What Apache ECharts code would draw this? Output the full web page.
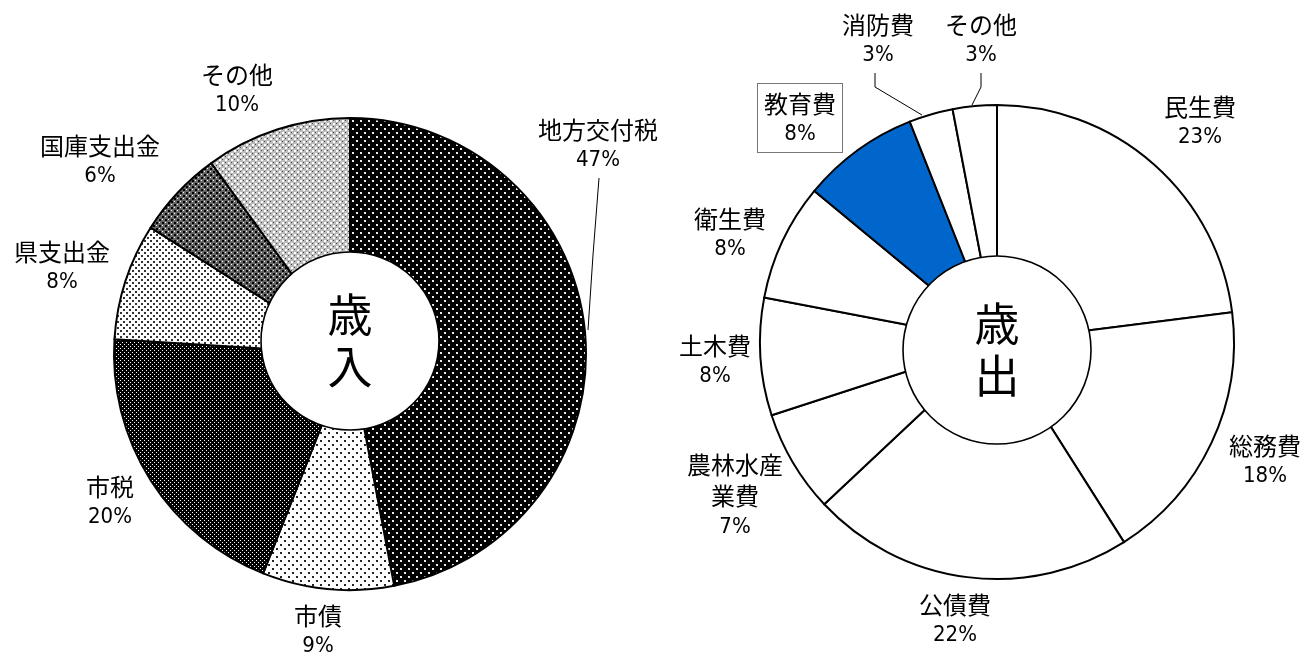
<!DOCTYPE html>
<html><head><meta charset="utf-8">
<script src="https://cdn.jsdelivr.net/npm/echarts@6/dist/echarts.min.js"></script>
<style>html,body{margin:0;padding:0;background:#fff}#c{width:1314px;height:657px}</style>
</head><body><div id="c"></div>
<script>
// ---- data ----
const revenueNames = ['地方交付税','市債','市税','県支出金','国庫支出金','その他'];
const revenueValues = [47, 9, 20, 8, 6, 10];
const expenseNames = ['民生費','総務費','公債費','農林水産業費','土木費','衛生費','教育費','消防費','その他'];
const expenseValues = [23, 18, 22, 7, 8, 8, 8, 3, 3];
const centerLabels = ['歳入','歳出'];

// ---- layout (label anchor positions, px) ----
const revLabelPos = [[598,145],[318,631],[110,502],[62,267],[100,161],[237,90]];
const expLabelPos = [[1200,122],[1265,461],[955,620],[735,496],[715,361],[730,234],[800,118],[878,40],[981,40]];
const revLines = {0: [[599,178],[593,255],[588,330]]};
const expLines = {7: [[875,73],[875,87],[922,115]], 8: [[981,73],[981,87],[972,105]]};

function pat(size, bg, dots) {
  const c = document.createElement('canvas');
  c.width = c.height = size;
  const g = c.getContext('2d');
  g.fillStyle = bg; g.fillRect(0,0,size,size);
  dots.forEach(d => { g.fillStyle = d[4]; g.fillRect(d[0], d[1], d[2], d[3]); });
  return {image: c, repeat: 'repeat'};
}
const revFills = [
  pat(8, '#000', [[0,0,2,2,'#eee'],[4,4,2,2,'#eee']]),
  pat(8, '#fff', [[0,0,2,2,'#222'],[4,4,2,2,'#222']]),
  pat(4, '#000', [[0,0,1,1,'#fff'],[2,2,1,1,'#fff']]),
  pat(6, '#fff', [[0,0,2,2,'#333'],[3,3,2,2,'#333']]),
  pat(6, '#666', [[0,0,2,2,'#000'],[3,3,2,2,'#000'],[0,3,1,1,'#fff'],[3,0,1,1,'#fff']]),
  pat(6, '#bbb', [[0,0,2,2,'#fff'],[3,3,2,2,'#fff'],[0,3,1,1,'#444'],[3,0,1,1,'#444']])
];
const expFills = ['#fff','#fff','#fff','#fff','#fff','#fff','#0066CC','#fff','#fff'];

const JP = '"Noto Sans CJK JP", sans-serif';
const NUM = '"DejaVu Sans Condensed", "Liberation Sans Narrow", "Noto Sans CJK JP", sans-serif';

function wrapName(n) { return n.length > 5 ? n.slice(0,4) + '\n' + n.slice(4) : n; }
function fmt(p) {
  return wrapName(p.name).split('\n').map(s => '{n|' + s + '}').join('\n') + '\n{p|' + p.value + '%}';
}
const rich = {
  n: {fontFamily: JP, fontSize: 24, lineHeight: 31, color: '#000'},
  p: {fontFamily: NUM, fontSize: 22, lineHeight: 31, color: '#000'}
};

function layoutFn(pos, lines) {
  return function (params) {
    const i = params.dataIndex;
    const r = {x: pos[i][0], y: pos[i][1], align: 'center', verticalAlign: 'middle'};
    if (lines[i]) r.labelLinePoints = lines[i];
    return r;
  };
}

const revData = revenueNames.map((n, i) => ({
  name: n, value: revenueValues[i],
  itemStyle: {color: revFills[i]},
  labelLine: {show: !!revLines[i]}
}));
const expData = expenseNames.map((n, i) => ({
  name: n, value: expenseValues[i],
  itemStyle: {color: expFills[i]},
  labelLine: {show: !!expLines[i]},
  label: i === 6 ? {borderColor: '#777', borderWidth: 1, padding: [4, 6, 2, 6], backgroundColor: '#fff'} : undefined
}));

function centerSeries(name, center, radius) {
  return {
    type: 'pie', silent: true, center: center, radius: [0, radius],
    data: [{name: name, value: 1}],
    itemStyle: {color: '#fff', borderColor: '#000', borderWidth: 1.6},
    label: {show: true, position: 'center', fontFamily: JP, fontSize: 45, lineHeight: 52, color: '#000',
      formatter: p => p.name.split('').join('\n')},
    labelLine: {show: false}, emphasis: {disabled: true}, animation: false
  };
}

const labelCommon = {show: true, position: 'outside', formatter: fmt, rich: rich, overflow: 'none', width: null, edgeDistance: 0, bleedMargin: 0};

const chart = echarts.init(document.getElementById('c'), null, {renderer: 'canvas'});
chart.setOption({
  backgroundColor: '#fff',
  animation: false,
  series: [
    {
      type: 'pie', center: [350, 354], radius: [0, 236], startAngle: 90, clockwise: true,
      data: revData, silent: true, avoidLabelOverlap: false,
      itemStyle: {borderColor: '#000', borderWidth: 2},
      label: labelCommon,
      labelLine: {lineStyle: {color: '#000', width: 1}},
      labelLayout: layoutFn(revLabelPos, revLines),
      emphasis: {disabled: true}
    },
    {
      type: 'pie', center: [997, 342], radius: [0, 237], startAngle: 90, clockwise: true,
      data: expData, silent: true, avoidLabelOverlap: false,
      itemStyle: {borderColor: '#000', borderWidth: 2},
      label: labelCommon,
      labelLine: {lineStyle: {color: '#000', width: 1}},
      labelLayout: layoutFn(expLabelPos, expLines),
      emphasis: {disabled: true}
    },
    centerSeries(centerLabels[0], [350, 341], 89),
    centerSeries(centerLabels[1], [997, 350], 94)
  ]
});
</script></body></html>
